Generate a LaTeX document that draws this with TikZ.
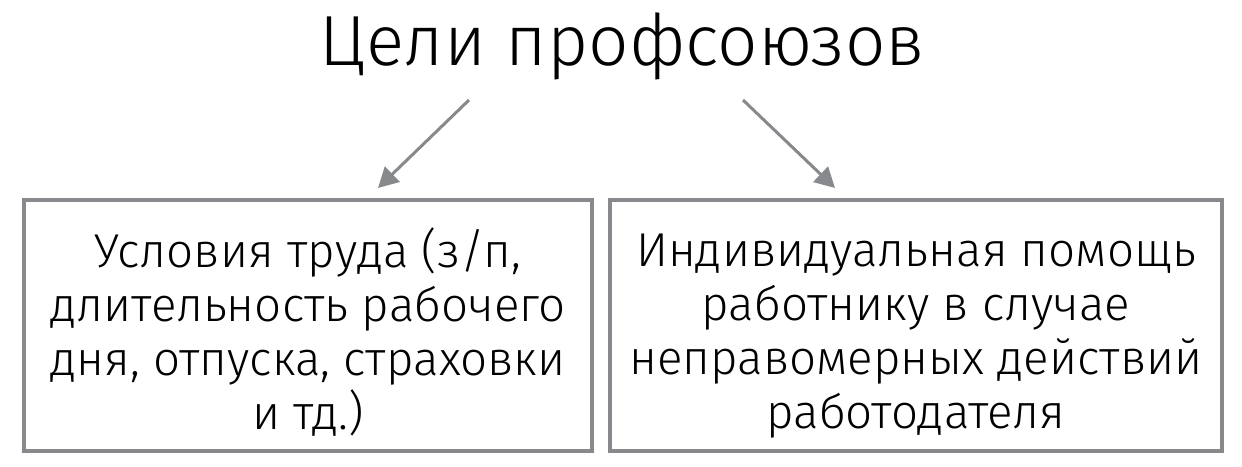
\documentclass[tikz,border=0pt]{standalone}
\usepackage{fontspec}
\setmainfont{Fira Sans}[UprightFont=* Light]
\usepackage{tikz}
\usetikzlibrary{calc,positioning,arrows.meta}

\definecolor{linegray}{RGB}{135,137,141}

\tikzset{
	goalbox/.style={draw=linegray,line width=4pt,align=center,inner sep=0pt,
		font=\fontsize{47.5}{54}\selectfont,text height=215pt,minimum height=251pt},
	goalarrow/.style={draw=linegray,line width=3pt,-{Triangle[length=20pt,width=21pt]}}
}

\begin{document}
\begin{tikzpicture}[x=1pt,y=-1pt]
	\useasboundingbox (0,0) rectangle (1242,466);
	\node(goals) at (622,46) [font=\fontsize{71}{71}\selectfont] {Цели профсоюзов};
	\node(cond) at (308,325.5) [goalbox,minimum width=568pt] {Условия труда (з/п,\\длительность рабочего\\дня, отпуска, страховки\\и тд.)};
	\node(help) at (916,325.5) [goalbox,minimum width=612pt] {Индивидуальная помощь\\работнику в случае\\неправомерных действий\\работодателя};
	\coordinate(c1) at (469,100);
	\coordinate(c2) at (743,100);
	\draw[goalarrow] (c1) -- ($(cond.north)+(70,-10)$);
	\draw[goalarrow] (c2) -- ($(help.north)+(-81,-10)$);
\end{tikzpicture}
\end{document}
